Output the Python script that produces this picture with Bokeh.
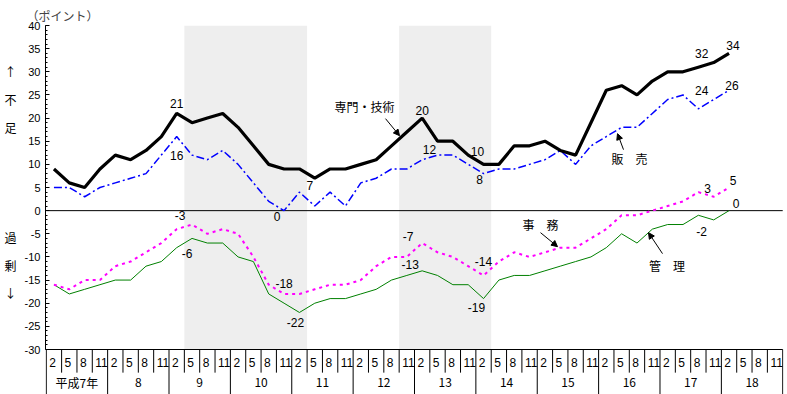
from bokeh.plotting import figure
from bokeh.models import Range1d, FixedTicker, ColumnDataSource, Arrow, NormalHead
from bokeh.core.properties import value
from bokeh.embed import file_html
from bokeh.resources import INLINE

# ---------------- data ----------------
quarter_labels = ["2", "5", "8", "11"]
year_labels = ["平成7年", "8", "9", "10", "11", "12", "13", "14", "15", "16", "17", "18"]

senmon = [9, 6, 5, 9, 12, 11, 13, 16, 21, 19, 20, 21, 18, 14, 10, 9, 9, 7, 9, 9, 10, 11, 14, 17,
          20, 15, 15, 12, 10, 10, 14, 14, 15, 13, 12, 19, 26, 27, 25, 28, 30, 30, 31, 32, 34]
hanbai = [5, 5, 3, 5, 6, 7, 8, 12, 16, 12, 11, 13, 10, 6, 2, 0, 4, 1, 4, 1, 6, 7, 9, 9,
          11, 12, 12, 10, 8, 9, 9, 10, 11, 13, 10, 14, 16, 18, 18, 21, 24, 25, 22, 24, 26]
jimu = [-16, -17, -15, -15, -12, -11, -9, -7, -4, -3, -5, -4, -5, -10, -16, -18, -18, -17, -16, -16,
        -15, -12, -10, -10, -7, -9, -10, -12, -14, -11, -9, -10, -9, -8, -8, -6, -4, -1, -1, 0,
        1, 2, 4, 3, 5]
kanri = [-16, -18, -17, -16, -15, -15, -12, -11, -8, -6, -7, -7, -10, -11, -18, -20, -22, -20, -19, -19,
         -18, -17, -15, -14, -13, -14, -16, -16, -19, -15, -14, -14, -13, -12, -11, -10, -8, -5, -7, -4,
         -3, -3, -1, -2, 0]
recession_first = [9, 23]   # first shaded quarter index
recession_last = [16, 28]   # last shaded quarter index
y_ticks = [40, 35, 30, 25, 20, 15, 10, 5, 0, -5, -10, -15, -20, -25, -30]

series = {"senmon": senmon, "hanbai": hanbai, "jimu": jimu, "kanri": kanri}

# ---------------- geometry ----------------
W, H = 787, 394
TOP, LEFT, RIGHT = 25, 45, 4
PX_Y = 324 / 70.0
Y_MAX = 40
Y_MIN = Y_MAX - (H - TOP) / PX_Y
X0, X1 = -0.55, 47.55
PX_X = (W - LEFT - RIGHT) / (X1 - X0)
n_q = len(year_labels) * len(quarter_labels)

p = figure(width=W, height=H, output_backend="svg", toolbar_location=None,
           x_range=Range1d(X0, X1), y_range=Range1d(Y_MIN, Y_MAX),
           x_axis_location=None, min_border_left=LEFT, min_border_right=RIGHT,
           min_border_top=TOP, min_border_bottom=0, title="（ポイント）")
p.outline_line_color = None
p.grid.grid_line_color = None
p.background_fill_color = "white"
p.border_fill_color = "white"

NUM_FONT = "Liberation Sans"
JP_FONT = "Noto Sans CJK JP"

p.title.text_font = JP_FONT
p.title.text_font_size = "12px"
p.title.text_font_style = "normal"
p.title.align = "left"
p.title.offset = -19
p.title.standoff = 4

# y axis
ax = p.yaxis[0]
ax.ticker = FixedTicker(ticks=y_ticks, minor_ticks=list(range(-30, 41)))
ax.bounds = (-30, 40)
ax.major_label_overrides = {t: str(t) for t in y_ticks}
ax.major_tick_in = 4
ax.major_tick_out = 0
ax.minor_tick_in = 2
ax.minor_tick_out = 0
ax.major_label_standoff = 5
ax.axis_line_color = "black"
ax.major_tick_line_color = "black"
ax.minor_tick_line_color = "black"
ax.major_label_text_font = NUM_FONT
ax.major_label_text_font_size = "11px"
ax.major_label_text_color = "black"
ax.axis_label = "↑\n不\n足\n \n \n \n過\n剰\n↓\n \n "
ax.axis_label_orientation = "horizontal"
ax.axis_label_text_font = JP_FONT
ax.axis_label_text_font_size = "12px"
ax.axis_label_text_font_style = "normal"
ax.axis_label_text_line_height = 1.627
ax.axis_label_standoff = 5
ax.axis_label_text_color = "black"

# shaded periods
p.quad(left=[a - 0.5 for a in recession_first], right=[b + 0.5 for b in recession_last],
       bottom=-30, top=40, fill_color="#eeeeee", line_color=None)

# zero line & x-axis line
p.segment(x0=[-0.5, -0.5], x1=[n_q - 0.5, n_q - 0.5], y0=[0, -30], y1=[0, -30],
          line_color="black", line_width=1)

# category table
y_qbot = (210 - 372) / PX_Y
y_qtext = (210 - 362) / PX_Y
y_ytext = (210 - 382) / PX_Y
sx0, sx1, sy0, sy1 = [-0.5], [-0.5], [-30], [Y_MIN]
for k in range(1, n_q + 1):
    xb = k - 0.5
    sx0.append(xb); sx1.append(xb); sy0.append(-30)
    sy1.append(Y_MIN if k % 4 == 0 else y_qbot)
p.segment(x0=sx0, x1=sx1, y0=sy0, y1=sy1, line_color="black", line_width=1)

qsrc = ColumnDataSource(dict(x=[k - 0.5 + 3 / PX_X for k in range(n_q)],
                             y=[y_qtext] * n_q,
                             t=[quarter_labels[k % 4] for k in range(n_q)]))
p.text(x="x", y="y", text="t", source=qsrc, text_font=value(NUM_FONT),
       text_font_size=value("12px"), text_align="left", text_baseline="middle", text_color="black")
ysrc = ColumnDataSource(dict(x=[4 * j + 1.5 for j in range(len(year_labels))],
                             y=[y_ytext] * len(year_labels), t=year_labels))
p.text(x="x", y="y", text="t", source=ysrc, text_font=value(JP_FONT),
       text_font_size=value("12px"), text_align="center", text_baseline="middle", text_color="black")

# series lines
p.line(list(range(len(kanri))), kanri, line_color="#008000", line_width=1)
p.line(list(range(len(jimu))), jimu, line_color="#FF00FF", line_width=2, line_dash="3 4")
p.line(list(range(len(hanbai))), hanbai, line_color="#0000FF", line_width=1.5, line_dash="8 3 2 3")
p.line(list(range(len(senmon))), senmon, line_color="black", line_width=3.2)

# value labels: (series, index, dx px, dy px)
vlabels = [("senmon", 8, 0, -10), ("hanbai", 8, 0, 19), ("jimu", 9, -12, -9), ("kanri", 9, -5, 15),
           ("hanbai", 15, -7, 6), ("senmon", 17, -5, 7), ("jimu", 15, 0, -10), ("kanri", 16, -4, 10),
           ("senmon", 24, 0, -8), ("hanbai", 25, -8, -6), ("senmon", 28, -6, -13), ("hanbai", 28, -4, 6),
           ("jimu", 24, -14, -7), ("kanri", 24, -12, -6), ("jimu", 28, 0, -14), ("kanri", 28, -7, 9),
           ("senmon", 43, -12, -9), ("senmon", 44, 4, -8), ("hanbai", 43, -12, -9), ("hanbai", 44, 3, -5),
           ("jimu", 43, -6, -8), ("jimu", 44, 4, -7), ("kanri", 44, 7, -7), ("kanri", 43, -12, 12)]
vsrc = ColumnDataSource(dict(
    x=[i + dx / PX_X for s, i, dx, dy in vlabels],
    y=[series[s][i] - dy / PX_Y for s, i, dx, dy in vlabels],
    t=[str(series[s][i]) for s, i, dx, dy in vlabels]))
p.text(x="x", y="y", text="t", source=vsrc, text_font=value(NUM_FONT),
       text_font_size=value("12px"), text_align="center", text_baseline="middle", text_color="black")

# series names
def pxy(px, py):
    return X0 + (px - LEFT) / PX_X, (210 - py) / PX_Y

names = [("専門・技術", 364, 106), ("販　売", 629, 157.5), ("事　務", 540, 223.5), ("管　理", 666.5, 265)]
nsrc = ColumnDataSource(dict(x=[pxy(a, b)[0] for _, a, b in names],
                             y=[pxy(a, b)[1] for _, a, b in names],
                             t=[n for n, _, _ in names]))
p.text(x="x", y="y", text="t", source=nsrc, text_font=value(JP_FONT),
       text_font_size=value("12px"), text_align="center", text_baseline="middle", text_color="black")

arrows = [((385, 118), (399, 135)), ((623, 149), (617, 133)),
          ((540, 232), (557, 246)), ((662, 253), (648, 232))]
for (a, b) in arrows:
    xs, ys = pxy(*a)
    xe, ye = pxy(*b)
    p.add_layout(Arrow(end=NormalHead(size=6, fill_color="black", line_color="black", line_width=1),
                       x_start=xs, y_start=ys, x_end=xe, y_end=ye,
                       line_color="black", line_width=1))

open("out.html", "w").write(file_html(p, INLINE))
